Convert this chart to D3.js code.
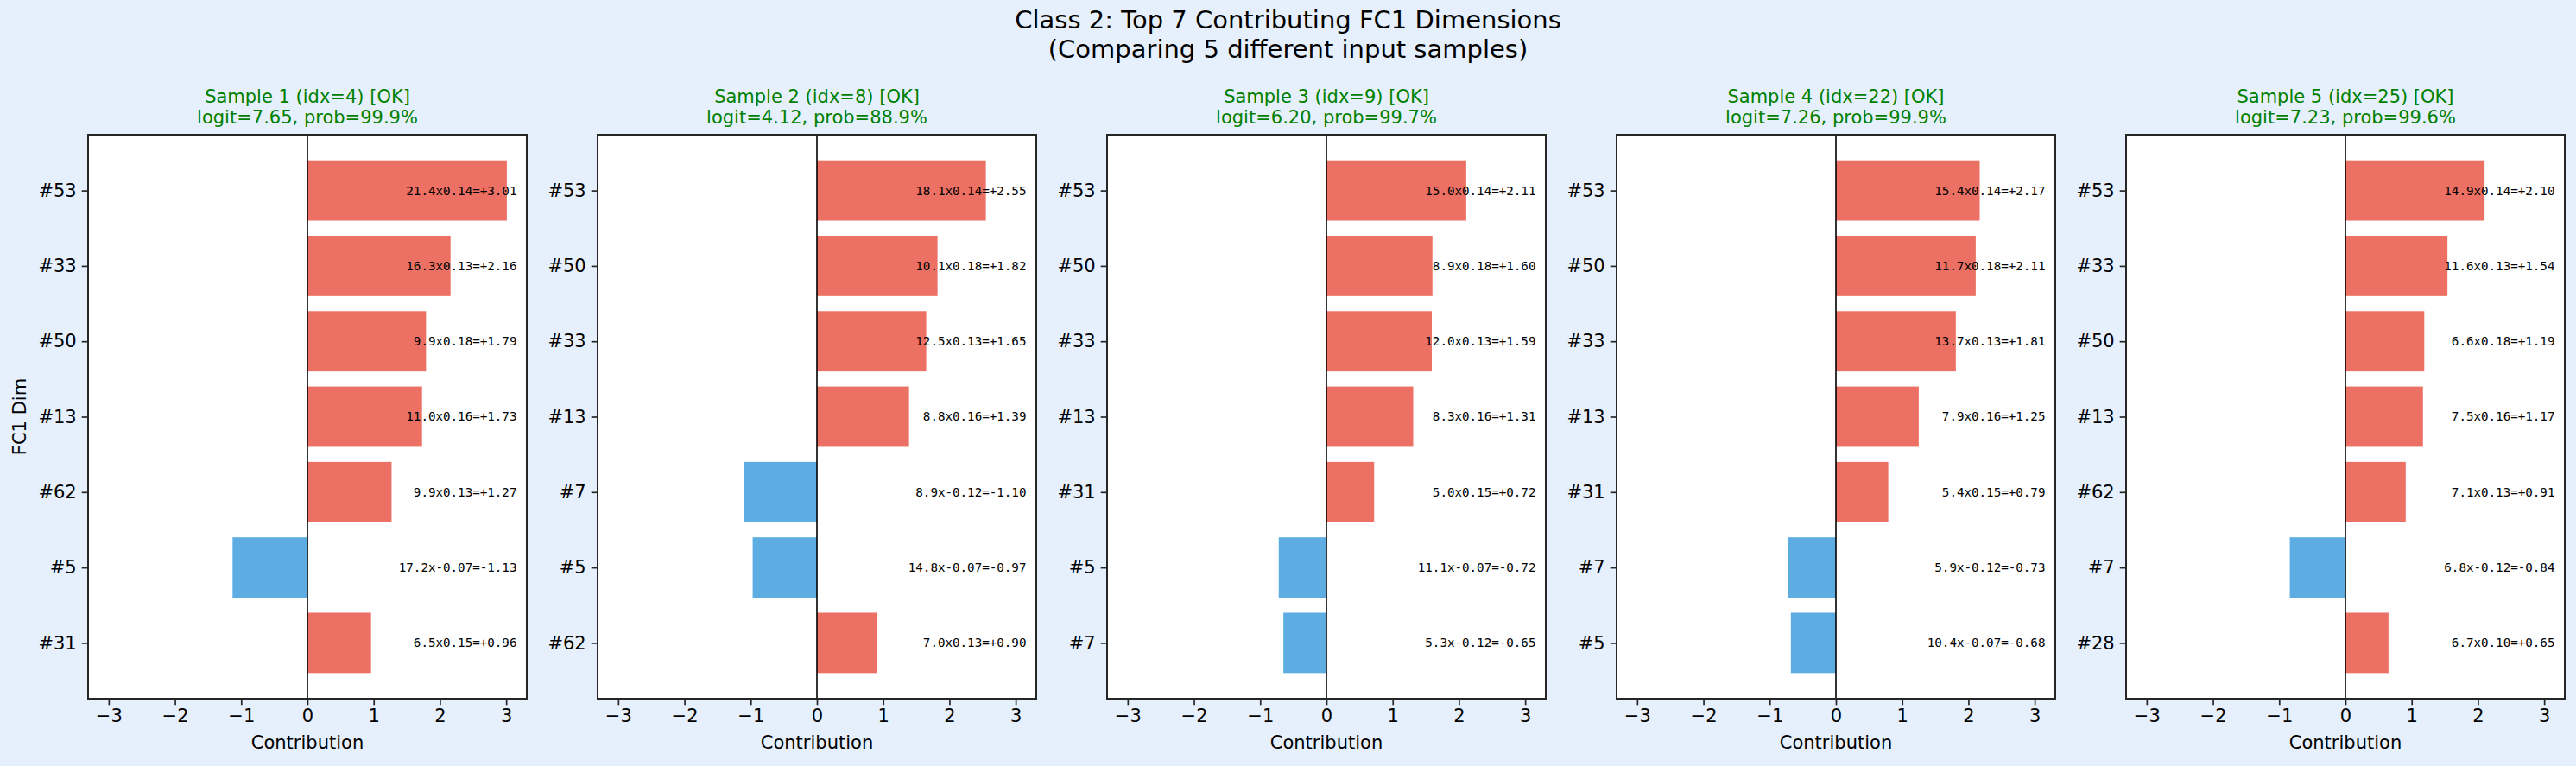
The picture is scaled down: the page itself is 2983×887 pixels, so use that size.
<!DOCTYPE html>
<html>
<head>
<meta charset="utf-8">
<script src="https://cdn.jsdelivr.net/npm/d3@7"></script>
<style>
  body { margin: 0; background: #e6f0fd; }
  svg { display: block; }
  text { font-family: "DejaVu Sans", sans-serif; }
  text.ann { font-family: "DejaVu Sans Mono", monospace; }
</style>
</head>
<body>
<div id="chart"></div>
<script>
// sample info
const sampleIdx = [4, 8, 9, 22, 25];
const logits = [7.65, 4.12, 6.20, 7.26, 7.23];
const probs = [99.9, 88.9, 99.7, 99.9, 99.6];

// top-7 dims per sample (top to bottom)
const dims1 = ["#53", "#33", "#50", "#13", "#62", "#5", "#31"];
const acts1 = [21.4, 16.3, 9.9, 11.0, 9.9, 17.2, 6.5];
const wts1 = [0.14, 0.13, 0.18, 0.16, 0.13, -0.07, 0.15];
const contrib1 = [3.01, 2.16, 1.79, 1.73, 1.27, -1.13, 0.96];

const dims2 = ["#53", "#50", "#33", "#13", "#7", "#5", "#62"];
const acts2 = [18.1, 10.1, 12.5, 8.8, 8.9, 14.8, 7.0];
const wts2 = [0.14, 0.18, 0.13, 0.16, -0.12, -0.07, 0.13];
const contrib2 = [2.55, 1.82, 1.65, 1.39, -1.10, -0.97, 0.90];

const dims3 = ["#53", "#50", "#33", "#13", "#31", "#5", "#7"];
const acts3 = [15.0, 8.9, 12.0, 8.3, 5.0, 11.1, 5.3];
const wts3 = [0.14, 0.18, 0.13, 0.16, 0.15, -0.07, -0.12];
const contrib3 = [2.11, 1.60, 1.59, 1.31, 0.72, -0.72, -0.65];

const dims4 = ["#53", "#50", "#33", "#13", "#31", "#7", "#5"];
const acts4 = [15.4, 11.7, 13.7, 7.9, 5.4, 5.9, 10.4];
const wts4 = [0.14, 0.18, 0.13, 0.16, 0.15, -0.12, -0.07];
const contrib4 = [2.17, 2.11, 1.81, 1.25, 0.79, -0.73, -0.68];

const dims5 = ["#53", "#33", "#50", "#13", "#62", "#7", "#28"];
const acts5 = [14.9, 11.6, 6.6, 7.5, 7.1, 6.8, 6.7];
const wts5 = [0.14, 0.13, 0.18, 0.16, 0.13, -0.12, 0.10];
const contrib5 = [2.10, 1.54, 1.19, 1.17, 0.91, -0.84, 0.65];

const xTicks = [-3, -2, -1, 0, 1, 2, 3];

const samples = [
  { dims: dims1, acts: acts1, wts: wts1, vals: contrib1 },
  { dims: dims2, acts: acts2, wts: wts2, vals: contrib2 },
  { dims: dims3, acts: acts3, wts: wts3, vals: contrib3 },
  { dims: dims4, acts: acts4, wts: wts4, vals: contrib4 },
  { dims: dims5, acts: acts5, wts: wts5, vals: contrib5 }
];

const W = 2983, H = 887;
const panelW = 508, panelTop = 156, panelBot = 809;
const panelLeft = [102, 692, 1282, 1872, 2462];
const spine = "#262626";

const svg = d3.select("#chart").append("svg")
  .attr("width", W).attr("height", H);

svg.append("rect").attr("width", W).attr("height", H).attr("fill", "#e6f0fd");

// suptitle
svg.append("text").attr("x", W / 2).attr("y", 33).attr("text-anchor", "middle")
  .attr("font-size", 29).text("Class 2: Top 7 Contributing FC1 Dimensions");
svg.append("text").attr("x", W / 2).attr("y", 67).attr("text-anchor", "middle")
  .attr("font-size", 29).text("(Comparing 5 different input samples)");

// shared x limit
const maxAbs = d3.max(samples, s => d3.max(s.vals, v => Math.abs(v)));
const xLim = maxAbs * 1.1;

const x = d3.scaleLinear().domain([-xLim, xLim]).range([0, panelW]);
const y = d3.scaleLinear().domain([-0.74, 6.74]).range([0, panelBot - panelTop]);
const barH = 0.8;

samples.forEach((s, k) => {
  const g = svg.append("g").attr("transform", `translate(${panelLeft[k]},${panelTop})`);
  const ph = panelBot - panelTop;

  g.append("rect").attr("width", panelW).attr("height", ph).attr("fill", "#fff");

  // bars
  g.selectAll("rect.bar").data(s.vals).enter().append("rect")
    .attr("class", "bar")
    .attr("x", d => x(Math.min(0, d)))
    .attr("width", d => Math.abs(x(d) - x(0)))
    .attr("y", (d, i) => y(i - barH / 2))
    .attr("height", y(barH) - y(0))
    .attr("fill", d => d >= 0 ? "#ec7063" : "#5dade2");

  // zero line
  g.append("line").attr("x1", x(0)).attr("x2", x(0)).attr("y1", 0).attr("y2", ph)
    .attr("stroke", "#000").attr("stroke-width", 1.6);

  // annotations
  g.selectAll("text.ann").data(s.vals).enter().append("text")
    .attr("class", "ann")
    .attr("x", x(maxAbs * 1.05))
    .attr("y", (d, i) => y(i))
    .attr("dy", "0.35em")
    .attr("text-anchor", "end")
    .attr("font-size", 14.2)
    .text((d, i) => s.acts[i].toFixed(1) + "x" + s.wts[i].toFixed(2) + "=" +
      (d >= 0 ? "+" : "") + d.toFixed(2));

  // x axis
  const xa = g.append("g").attr("transform", `translate(0,${ph})`)
    .call(d3.axisBottom(x).tickValues(xTicks).tickSize(7.3).tickPadding(5)
      .tickFormat(d => d < 0 ? "\u2212" + Math.abs(d) : d));
  xa.select(".domain").remove();
  xa.selectAll("line").attr("stroke", spine).attr("stroke-width", 1.7);
  xa.selectAll("text").attr("font-size", 21).attr("fill", "#000");

  // y axis
  const ya = g.append("g")
    .call(d3.axisLeft(y).tickValues(d3.range(s.dims.length)).tickSize(7.3).tickPadding(6)
      .tickFormat(i => s.dims[i]));
  ya.select(".domain").remove();
  ya.selectAll("line").attr("stroke", spine).attr("stroke-width", 1.7);
  ya.selectAll("text").attr("font-size", 21).attr("fill", "#000");

  // spines
  g.append("rect").attr("width", panelW).attr("height", ph)
    .attr("fill", "none").attr("stroke", spine).attr("stroke-width", 2);

  // titles
  g.append("text").attr("x", panelW / 2).attr("y", 119 - panelTop)
    .attr("text-anchor", "middle").attr("font-size", 21).attr("fill", "#008000")
    .text(`Sample ${k + 1} (idx=${sampleIdx[k]}) [OK]`);
  g.append("text").attr("x", panelW / 2).attr("y", 143 - panelTop)
    .attr("text-anchor", "middle").attr("font-size", 21).attr("fill", "#008000")
    .text(`logit=${logits[k].toFixed(2)}, prob=${probs[k].toFixed(1)}%`);

  g.append("text").attr("x", panelW / 2).attr("y", 867 - panelTop)
    .attr("text-anchor", "middle").attr("font-size", 21).text("Contribution");

  if (k === 0) {
    g.append("text")
      .attr("transform", `translate(${30 - panelLeft[0]},${ph / 2}) rotate(-90)`)
      .attr("text-anchor", "middle").attr("font-size", 21).text("FC1 Dim");
  }
});
</script>
</body>
</html>
